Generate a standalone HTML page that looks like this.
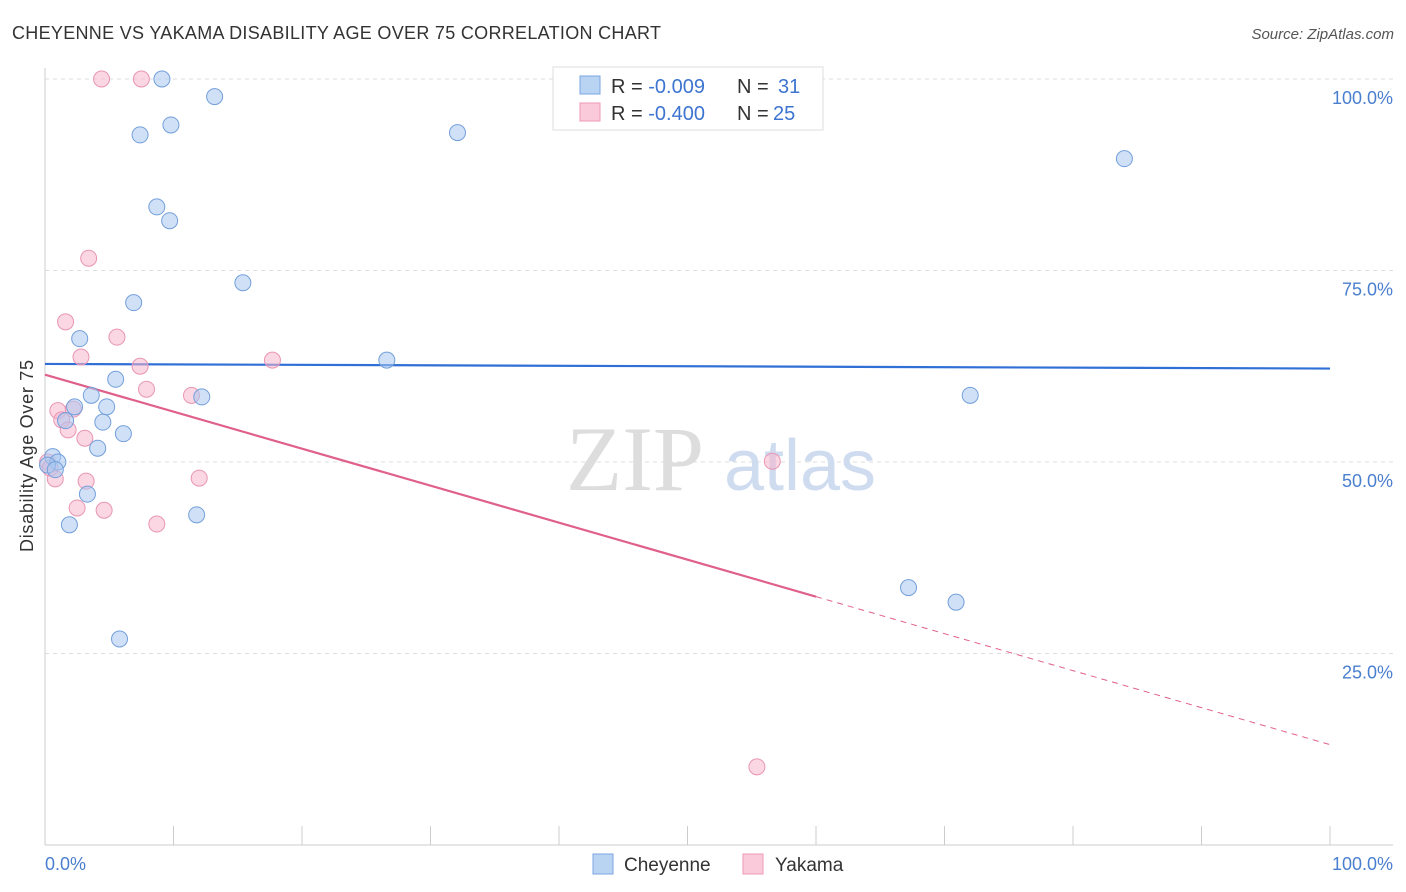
<!DOCTYPE html>
<html><head><meta charset="utf-8"><style>
body{margin:0;background:#fff;font-family:"Liberation Sans",sans-serif;}
svg{display:block}
</style></head><body>
<svg width="1406" height="892" xmlns="http://www.w3.org/2000/svg">
<text x="12" y="39" font-size="18" fill="#333" textLength="649">CHEYENNE VS YAKAMA DISABILITY AGE OVER 75 CORRELATION CHART</text>
<text x="1394" y="39" font-size="15" fill="#555" font-style="italic" text-anchor="end">Source: ZipAtlas.com</text>
<g id="grid"></g>
<text x="635" y="490" font-size="92" fill="#ddd" text-anchor="middle" font-family="Liberation Serif,serif">ZIP</text>
<text x="800" y="490" font-size="72" fill="#cfdcf0" text-anchor="middle">atlas</text>
<g id="lines"></g>
<g id="points"></g>
<text x="33" y="456" font-size="18" fill="#333" text-anchor="middle" textLength="192" transform="rotate(-90 33 456)">Disability Age Over 75</text>
<g>
<rect x="553" y="67" width="270" height="63" fill="#fff" stroke="#ddd"/>
<rect x="580" y="76" width="20" height="18" fill="#b9d3f3" stroke="#7aa5e0"/>
<rect x="580" y="103" width="20" height="18" fill="#fbcada" stroke="#ee9ab5"/>
<text x="611" y="93" font-size="20" fill="#333">R = <tspan fill="#3d74d0">-0.009</tspan></text>
<text x="737" y="93" font-size="20" fill="#333">N = </text>
<text x="778" y="93" font-size="20" fill="#3d74d0">31</text>
<text x="611" y="120" font-size="20" fill="#333">R = <tspan fill="#3d74d0">-0.400</tspan></text>
<text x="737" y="120" font-size="20" fill="#333">N = </text>
<text x="773" y="120" font-size="20" fill="#3d74d0">25</text>
</g>
<g>
<rect x="593" y="854" width="20" height="20" fill="#b9d3f3" stroke="#7aa5e0"/>
<text x="624" y="871" font-size="19" fill="#333">Cheyenne</text>
<rect x="743" y="854" width="20" height="20" fill="#fbcada" stroke="#ee9ab5"/>
<text x="775" y="871" font-size="19" fill="#333">Yakama</text>
</g>
</svg>
<script>
const blueX=[9.1,13.2,7.4,9.8,32.1,84.0,8.7,9.7,15.4,6.9,2.7,26.6,5.5,3.6,12.2,72.0,2.3,4.8,4.5,1.6,6.1,4.1,0.6,1.0,0.2,0.8,3.3,11.8,1.9,67.2,70.9,5.8];
const blueY=[100,97.7,92.7,94.0,93.0,89.6,83.3,81.5,73.4,70.8,66.1,63.3,60.8,58.7,58.5,58.7,57.2,57.2,55.2,55.4,53.7,51.8,50.7,50.0,49.6,49.0,45.8,43.1,41.8,33.6,31.7,26.9];
const pinkX=[4.4,7.5,3.4,1.6,5.6,2.8,7.4,17.7,7.9,11.4,1.0,2.2,1.3,1.8,3.1,56.6,0.2,0.4,0.8,3.2,12.0,2.5,4.6,8.7,55.4];
const pinkY=[100,100,76.6,68.3,66.3,63.7,62.5,63.3,59.5,58.7,56.7,56.9,55.5,54.2,53.1,50.1,50.0,49.2,47.8,47.5,47.9,44.0,43.7,41.9,10.2];
const yTicks=[100,75,50,25];
const yTickLabels=["100.0%","75.0%","50.0%","25.0%"];
const xTickLabels=["0.0%","100.0%"];
const blueTrend=[62.8,62.2];
const pinkTrend=[61.4,13.1];
const pinkSolidEnd=60;
const NS="http://www.w3.org/2000/svg";
const sx=v=>45+v*12.85, sy=v=>845-v*7.66;
function mk(t,a,p){const e=document.createElementNS(NS,t);for(const k in a)e.setAttribute(k,a[k]);p.appendChild(e);return e;}
const grid=document.getElementById('grid');
const ax=mk('line',{x1:45,y1:68,x2:45,y2:845,stroke:'#ccc'},grid);


const xa=mk('line',{x1:45,y1:845,x2:1393,y2:845,stroke:'#ccc'},grid);


yTicks.forEach((t,i)=>{
 const l=mk('line',{x1:45,y1:sy(t),x2:1393,y2:sy(t),stroke:'#ddd','stroke-dasharray':'4 4'},grid);
 
 
 const tx=mk('text',{x:1393,y:sy(t)+25,'font-size':18,fill:'#4a7fcf','text-anchor':'end'},grid);
 tx.textContent=yTickLabels[i];
 
 
});
for(let i=0;i<=10;i++){
 const t=mk('line',{x1:sx(i*10),y1:826,x2:sx(i*10),y2:845,stroke:'#ccc'},grid);
 
 
}
[[0,'start',45],[1,'end',1393]].forEach(([i,a,x])=>{
 const tx=mk('text',{x:x,y:870,'font-size':18,fill:'#4a7fcf','text-anchor':a},grid);
 tx.textContent=xTickLabels[i];
 
 
});
const lines=document.getElementById('lines');
const bl=mk('line',{x1:sx(0),y1:sy(blueTrend[0]),x2:sx(100),y2:sy(blueTrend[1]),stroke:'#2f6fd6','stroke-width':2.2},lines);


const pAt=x=>pinkTrend[0]+(pinkTrend[1]-pinkTrend[0])*x/100;
const pl=mk('line',{x1:sx(0),y1:sy(pAt(0)),x2:sx(pinkSolidEnd),y2:sy(pAt(pinkSolidEnd)),stroke:'#e0608c','stroke-width':2.2},lines);


const pd=mk('line',{x1:sx(pinkSolidEnd),y1:sy(pAt(pinkSolidEnd)),x2:sx(100),y2:sy(pAt(100)),stroke:'#e0608c','stroke-width':1,'stroke-dasharray':'6 5'},lines);


const pts=document.getElementById('points');
pinkX.forEach((x,i)=>{
 const c=mk('circle',{cx:sx(x),cy:sy(pinkY[i]),r:8,fill:'rgba(248,180,204,0.55)',stroke:'#e996b3','stroke-width':1},pts);
 
 
});
blueX.forEach((x,i)=>{
 const c=mk('circle',{cx:sx(x),cy:sy(blueY[i]),r:8,fill:'rgba(170,200,240,0.55)',stroke:'#739fdb','stroke-width':1},pts);
 
 
});
</script>
</body></html>
